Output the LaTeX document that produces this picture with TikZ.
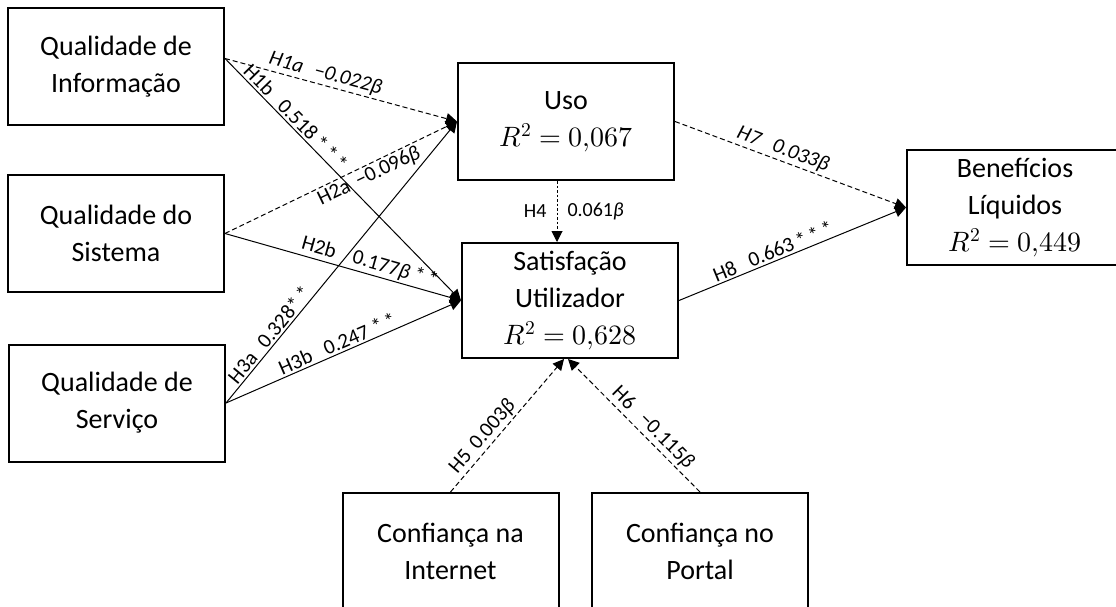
\documentclass[tikz,border=0pt]{standalone}
\usepackage{unicode-math}
\setmainfont{Carlito}
\setmathfont{Latin Modern Math}
\usetikzlibrary{arrows.meta,calc}
\begin{document}
\begin{tikzpicture}[x=1pt,y=-1pt,
  box/.style={draw, line width=2pt, minimum width=216pt, minimum height=117pt,
    inner sep=0pt, align=center, font=\fontsize{28}{37}\selectfont},
  link/.style={line width=1pt, -{Triangle[length=11pt,width=11pt]}},
  dsh/.style={link, dash pattern=on 5pt off 3pt},
  dotl/.style={link, dash pattern=on 2.5pt off 2pt},
  lab/.style={font=\fontsize{21}{23}\selectfont, sloped, above, inner sep=2pt},
  plainlab/.style={font=\fontsize{20}{22}\selectfont, inner sep=0pt}]
\useasboundingbox (0,0) rectangle (1116,607);

\node[box] (info) at (116,66.5) {Qualidade de\\Informação};
\node[box] (sist) at (116,233.5) {Qualidade do\\Sistema};
\node[box] (serv) at (117,403) {Qualidade de\\Serviço};
\node[box] (uso) at (566,121.5) {Uso\\$R^2 = 0{,}067$};
\node[box, minimum height=115pt] (sat) at (570,300.5) {Satisfação\\Utilizador\\$R^2 = 0{,}628$};
\node[box, minimum height=115pt] (ben) at (1015,207.5) {Benefícios\\Líquidos\\$R^2 = 0{,}449$};
\node[box] (inet) at (450.5,551.5) {Confiança na\\Internet};
\node[box] (port) at (700,551.5) {Confiança no\\Portal};

\coordinate (infoS) at ($(info.east)+(0,-8)$);

\draw[dsh] (infoS) -- node[lab,pos=0.42]{\itshape H1a\hspace{12pt}−0.022β} (uso.west);
\draw[link] (infoS) -- node[lab,pos=0.27]{H1b\hspace{14pt}0.518\,*\,*\,*} (sat.west);
\draw[dsh] (sist.east) -- node[lab,below,pos=0.6]{H2a\hspace{8pt}−0.096\textit{β}} (uso.west);
\draw[link] (sist.east) -- node[lab,pos=0.6]{H2b\hspace{18pt}0.177\textit{β} *\,*} (sat.west);
\draw[link] (serv.east) -- node[lab,pos=0.22]{H3a\hspace{12pt}0.328*\,*} (uso.west);
\draw[link] (serv.east) -- node[lab,pos=0.49]{H3b\hspace{14pt}0.247 *\,*} (sat.west);

\draw[dotl] ($(uso.south)+(-9,0)$) --
  node[plainlab,pos=0.5,anchor=east,xshift=-10pt]{H4}
  node[plainlab,pos=0.5,anchor=west,xshift=10pt]{0.061\textit{β}}
  ($(uso.south |- sat.north)+(-9,0)$);

\draw[dsh] (uso.east) -- node[lab,pos=0.45]{\itshape H7\hspace{14pt}0.033β} (ben.west);
\draw[link] (sat.east) -- node[lab,pos=0.43]{H8\hspace{14pt}0.663\,*\,*\,*} (ben.west);

\draw[dsh] (inet.north) -- node[lab,pos=0.36]{H5\hspace{8pt}0.003\textit{β}} ($(sat.south)+(-6,0)$);
\draw[dsh] (port.north) -- node[lab,pos=0.42]{H6\hspace{14pt}−0.115\textit{β}} ($(sat.south)+(-2,0)$);
\end{tikzpicture}
\end{document}
